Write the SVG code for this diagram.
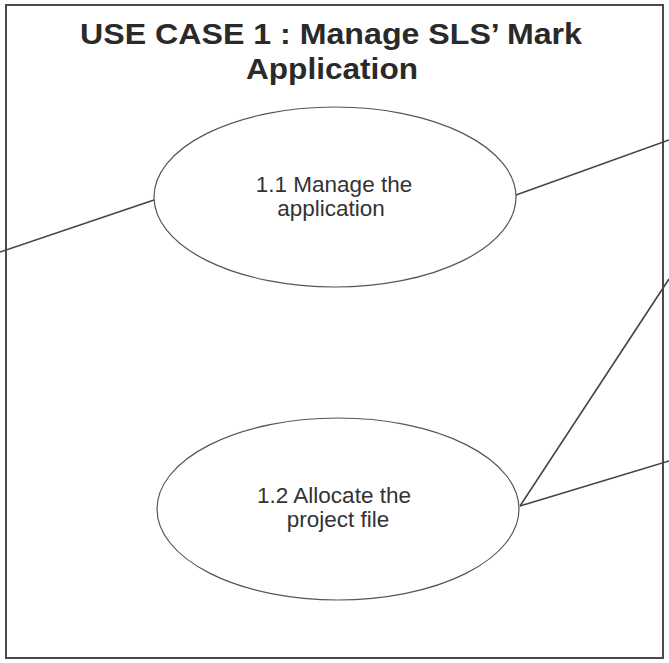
<svg xmlns="http://www.w3.org/2000/svg" width="669" height="663" viewBox="0 0 669 663">
<style>
.frame{fill:none;stroke:#4a4a4a;stroke-width:2}
.uc{fill:#fff;stroke:#555;stroke-width:1.2}
.conn line{stroke:#444;stroke-width:1.6}
.title{font-family:"Liberation Sans",Arial,sans-serif;font-weight:bold;font-size:30px;fill:#2a2a2a;text-anchor:middle}
.lbl{font-family:"Liberation Sans",Arial,sans-serif;font-size:22.5px;fill:#333;text-anchor:middle}
</style>
<rect width="669" height="663" fill="#fff"/>
<g id="frame">
<rect class="frame" x="6" y="5" width="657" height="653"/>
<text class="title" x="331" y="44" textLength="502" lengthAdjust="spacingAndGlyphs">USE CASE 1 : Manage SLS’ Mark</text>
<text class="title" x="332" y="79" textLength="172" lengthAdjust="spacingAndGlyphs">Application</text>
</g>
<g class="conn" id="connectors">
<line x1="0" y1="252" x2="154" y2="200"/>
<line x1="516" y1="195" x2="669" y2="140"/>
<line x1="520" y1="506" x2="669" y2="279"/>
<line x1="520" y1="506" x2="669" y2="461"/>
</g>
<g id="uc1">
<ellipse class="uc" cx="335" cy="197" rx="181" ry="90"/>
<text class="lbl" x="334" y="192">1.1 Manage the</text>
<text class="lbl" x="331" y="216">application</text>
</g>
<g id="uc2">
<ellipse class="uc" cx="338" cy="509" rx="181" ry="91"/>
<text class="lbl" x="334" y="503">1.2 Allocate the</text>
<text class="lbl" x="338" y="527">project file</text>
</g>
</svg>
